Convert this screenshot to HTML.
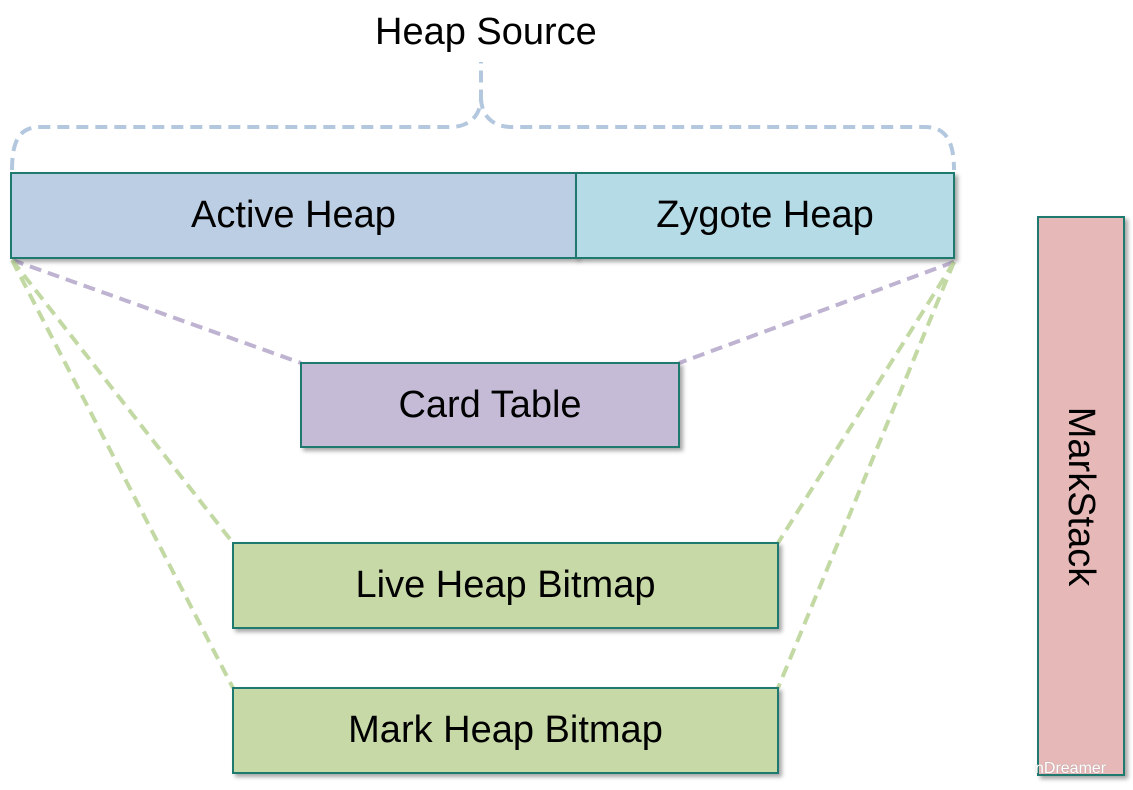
<!DOCTYPE html>
<html><head><style>
body{margin:0;width:1133px;height:790px;background:#fff;position:relative;overflow:hidden;font-family:"Liberation Sans",sans-serif}
.b{position:absolute;box-sizing:border-box;border:2px solid #1e7a6e;display:flex;align-items:center;justify-content:center;font-size:38px;color:#000;box-shadow:3px 3px 4px rgba(0,0,0,.35)}
</style></head><body>
<svg width="1133" height="790" style="position:absolute;left:0;top:0">
<g fill="none" stroke-width="4" stroke-dasharray="12,7">
<path d="M12,170 C12,140 20,127 40,127 L450,127 C470,127 481,115 481,97 L481,62 M481,97 C481,115 492,127 512,127 L925,127 C945,127 954,140 954,170" stroke="#b3c8de"/>
<path d="M12,260 L301,363 M954,262 L679,363" stroke="#bfb3d2"/>
<path d="M12,260 L233,543 M12,260 L233,688 M954,262 L778,543 M954,262 L778,688" stroke="#c3d9a4"/>
</g></svg>
<div style="position:absolute;left:375px;top:11px;font-size:38px">Heap Source</div>
<div class="b" style="left:10px;top:172px;width:567px;height:87px;background:#bccee3">Active Heap</div>
<div class="b" style="left:575px;top:172px;width:380px;height:87px;background:#b4dbe6">Zygote Heap</div>
<div class="b" style="left:300px;top:362px;width:380px;height:86px;background:#c5bbd6">Card Table</div>
<div class="b" style="left:232px;top:542px;width:547px;height:87px;background:#c8d9a8">Live Heap Bitmap</div>
<div class="b" style="left:232px;top:687px;width:547px;height:87px;background:#c8d9a8">Mark Heap Bitmap</div>
<div class="b" style="left:1037px;top:216px;width:88px;height:560px;background:#e6b8b8"><span style="transform:rotate(90deg);white-space:nowrap">MarkStack</span></div>
<div style="position:absolute;left:1035px;top:760px;font-size:16px;color:#fff;text-shadow:0 0 1px #999">nDreamer</div>
</body></html>
